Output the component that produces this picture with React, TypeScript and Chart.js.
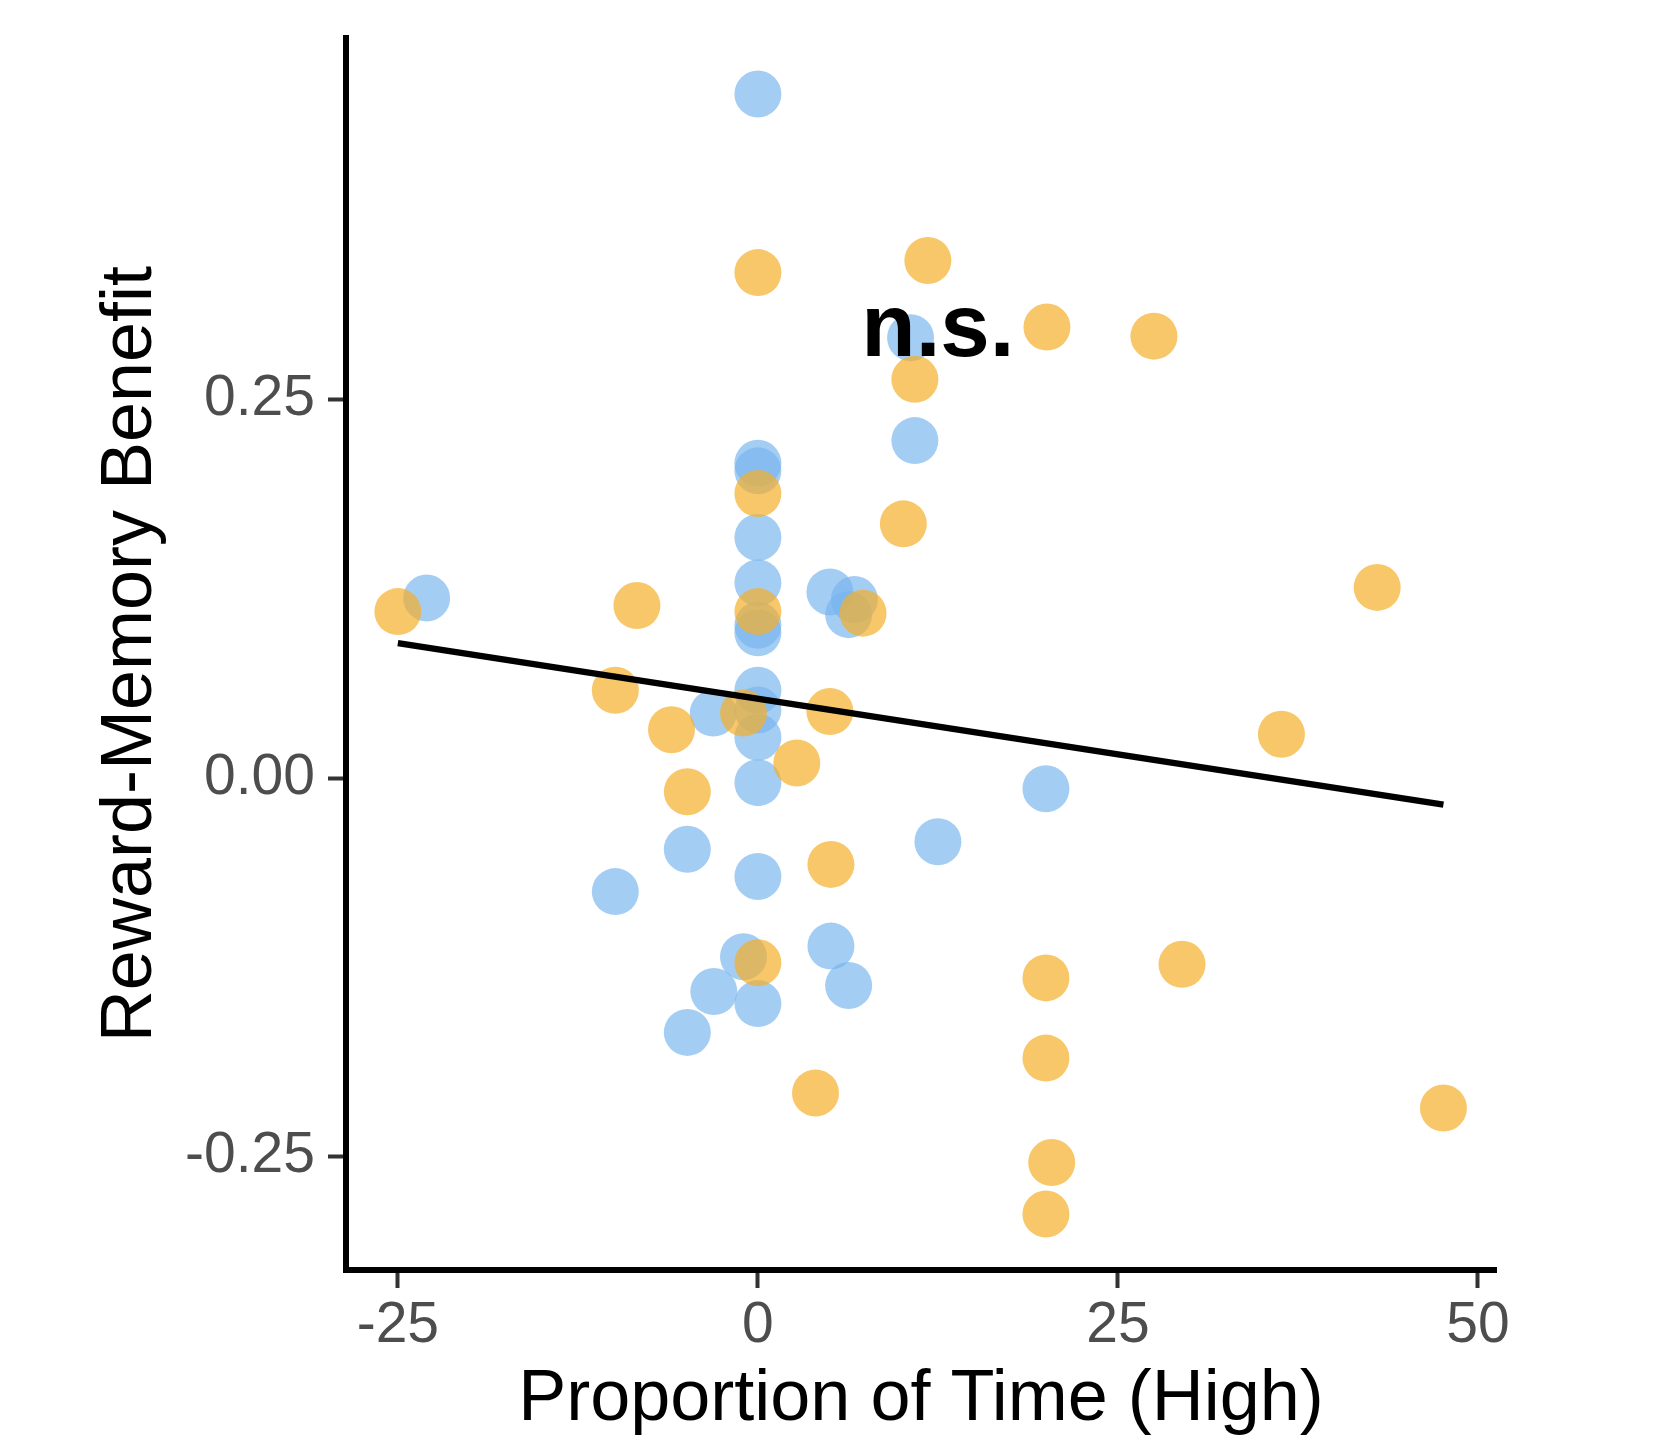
import React, { useEffect, useRef } from 'react';
import { Chart, registerables } from 'chart.js';

Chart.register(...registerables);

const FONT = '"Liberation Sans", Arial, Helvetica, sans-serif';

// Blue group
const blueX = [0, 10.6, 10.9, 0, 0, 0, 0, 0, 0, 5.0, 6.7, 6.3, -23.0, 0, 0, -3.1, 0, 0, 20.0, 12.5, -4.9, 0, -9.9, -1.0, 5.07, 6.3, -3.06, 0, -4.9];
const blueY = [0.452, 0.291, 0.223, 0.208, 0.203, 0.159, 0.129, 0.101, 0.096, 0.123, 0.118, 0.108, 0.119, 0.058, 0.045, 0.043, 0.027, -0.003, -0.007, -0.042, -0.047, -0.065, -0.075, -0.118, -0.111, -0.137, -0.141, -0.149, -0.168];

// Orange group
const orangeX = [0, 11.8, 20.07, 27.5, 10.9, 0, 10.1, 43.0, -25.0, -8.4, 0, 7.3, -9.9, 5.0, -1.0, -6.0, 36.35, 2.7, -4.9, 5.07, 0, 29.45, 20.0, 20.0, 4.0, 47.6, 20.4, 20.0];
const orangeY = [0.334, 0.342, 0.298, 0.292, 0.2635, 0.188, 0.168, 0.126, 0.110, 0.114, 0.110, 0.109, 0.058, 0.044, 0.043, 0.032, 0.029, 0.010, -0.009, -0.057, -0.122, -0.123, -0.132, -0.185, -0.208, -0.218, -0.254, -0.288];

// Regression line end points
const fitX = [-25.0, 47.6];
const fitY = [0.0892, -0.0175];

const xTicks = [-25, 0, 25, 50];
const yTicks = [-0.25, 0, 0.25];

const xTitle = 'Proportion of Time (High)';
const yTitle = 'Reward-Memory Benefit';

const noteText = 'n.s.';
const noteX = 12.5;
const noteY = 0.279;

const toPoints = (xs: number[], ys: number[]) => xs.map((x, i) => ({ x, y: ys[i] }));

const notePlugin = {
  id: 'notePlugin',
  afterDatasetsDraw(chart: any) {
    const { ctx, scales } = chart;
    const px = scales.x.getPixelForValue(noteX);
    const py = scales.y.getPixelForValue(noteY);
    ctx.save();
    ctx.font = `bold 89px ${FONT}`;
    ctx.fillStyle = '#000000';
    ctx.textAlign = 'center';
    ctx.textBaseline = 'alphabetic';
    ctx.fillText(noteText, px, py);
    ctx.restore();
  },
};

export default function App() {
  const ref = useRef<HTMLCanvasElement | null>(null);

  useEffect(() => {
    if (!ref.current) return;
    const chart = new Chart(ref.current, {
      type: 'scatter',
      data: {
        datasets: [
          {
            label: 'fit',
            data: toPoints(fitX, fitY),
            showLine: true,
            borderColor: '#000000',
            borderWidth: 6.5,
            pointRadius: 0,
            fill: false,
          } as any,
          {
            label: 'orange',
            data: toPoints(orangeX, orangeY),
            backgroundColor: 'rgba(245,175,42,0.7)',
            borderWidth: 0,
            pointRadius: 23.5,
          },
          {
            label: 'blue',
            data: toPoints(blueX, blueY),
            backgroundColor: 'rgba(121,181,239,0.68)',
            borderWidth: 0,
            pointRadius: 23.5,
          },
        ],
      },
      options: {
        animation: false,
        responsive: false,
        layout: { padding: { top: 38, right: 159, left: 0, bottom: 0 } },
        plugins: { legend: { display: false }, tooltip: { enabled: false } },
        scales: {
          x: {
            type: 'linear',
            min: -28.6,
            max: 51.25,
            afterBuildTicks: (s: any) => {
              s.ticks = xTicks.map((v) => ({ value: v }));
            },
            afterFit: (s: any) => {
              s.height = 170;
              s.paddingLeft = 0;
              s.paddingRight = 0;
            },
            ticks: {
              font: { size: 57, family: FONT },
              color: '#4D4D4D',
              padding: 4,
              maxRotation: 0,
              callback: (v: any) => String(v),
            },
            grid: {
              drawOnChartArea: false,
              drawTicks: true,
              tickLength: 18,
              tickWidth: 4,
              tickColor: '#333333',
              color: '#333333',
            },
            border: { display: true, color: '#000000', width: 6 },
            title: {
              display: true,
              text: xTitle,
              color: '#000000',
              font: { size: 72, family: FONT },
              padding: { top: 0, bottom: -3 },
            },
          },
          y: {
            type: 'linear',
            min: -0.325,
            max: 0.489,
            afterBuildTicks: (s: any) => {
              s.ticks = yTicks.map((v) => ({ value: v }));
            },
            afterFit: (s: any) => {
              s.width = 346;
              s.paddingTop = 0;
              s.paddingBottom = 0;
            },
            ticks: {
              font: { size: 57, family: FONT },
              color: '#4D4D4D',
              padding: 13,
              callback: (v: any) => Number(v).toFixed(2),
            },
            grid: {
              drawOnChartArea: false,
              drawTicks: true,
              tickLength: 18,
              tickWidth: 4,
              tickColor: '#333333',
              color: '#333333',
            },
            border: { display: true, color: '#000000', width: 6 },
            title: {
              display: true,
              text: yTitle,
              color: '#000000',
              font: { size: 72, family: FONT },
              padding: { top: 88, bottom: 0 },
            },
          },
        },
      },
      plugins: [notePlugin],
    });
    return () => chart.destroy();
  }, []);

  return (
    <div style={{ position: 'absolute', left: 0, top: 0, width: 1655, height: 1440, background: '#ffffff' }}>
      <canvas ref={ref} width={1655} height={1440} />
    </div>
  );
}
